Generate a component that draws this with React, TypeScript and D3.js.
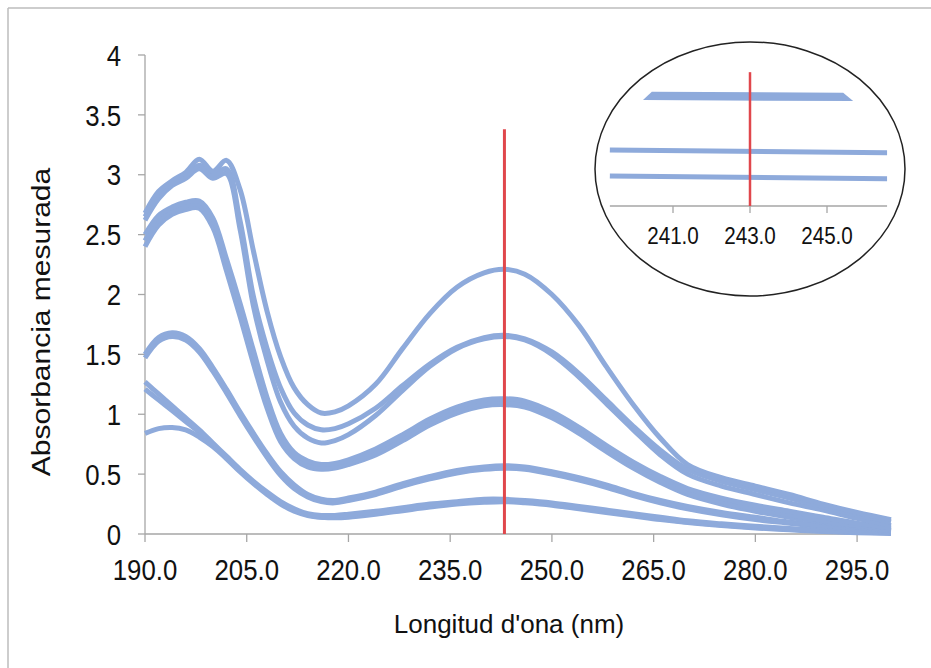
import * as d3 from 'd3';
import React from 'react';

// wavelengths (nm) shared by every spectrum
const wavelengths = [190, 192, 194, 196, 198, 200, 202, 204, 206, 208, 210, 212, 214, 216, 218, 220, 224, 228, 232, 236, 240, 243, 246, 250, 254, 258, 262, 266, 270, 275, 280, 285, 290, 295, 300];

const specA = [2.68, 2.86, 2.95, 3.02, 3.13, 3.03, 3.12, 2.88, 2.36, 1.86, 1.48, 1.22, 1.08, 1.01, 1.02, 1.07, 1.25, 1.55, 1.84, 2.06, 2.18, 2.21, 2.17, 2.0, 1.74, 1.4, 1.08, 0.8, 0.58, 0.47, 0.4, 0.33, 0.25, 0.18, 0.12];
const specB1 = [2.65, 2.83, 2.93, 2.99, 3.08, 3.0, 3.05, 2.62, 1.98, 1.55, 1.22, 1.01, 0.91, 0.87, 0.88, 0.92, 1.05, 1.24, 1.42, 1.56, 1.64, 1.66, 1.63, 1.52, 1.34, 1.12, 0.9, 0.7, 0.54, 0.44, 0.37, 0.3, 0.23, 0.16, 0.1];
const specB2 = [2.62, 2.8, 2.91, 2.97, 3.05, 2.97, 3.01, 2.55, 1.9, 1.45, 1.1, 0.9, 0.8, 0.76, 0.78, 0.83, 0.99, 1.2, 1.4, 1.55, 1.63, 1.65, 1.62, 1.5, 1.31, 1.09, 0.87, 0.66, 0.5, 0.4, 0.33, 0.26, 0.2, 0.13, 0.07];
const specC1 = [2.5, 2.66, 2.73, 2.77, 2.78, 2.64, 2.3, 1.93, 1.53, 1.14, 0.84, 0.68, 0.61, 0.58, 0.59, 0.62, 0.71, 0.83, 0.96, 1.06, 1.12, 1.13, 1.11, 1.02, 0.89, 0.74, 0.6, 0.48, 0.38, 0.3, 0.24, 0.19, 0.14, 0.09, 0.05];
const specC2 = [2.45, 2.62, 2.7, 2.74, 2.75, 2.6, 2.25, 1.87, 1.47, 1.09, 0.8, 0.65, 0.58, 0.55, 0.56, 0.59, 0.68, 0.8, 0.93, 1.03, 1.09, 1.1, 1.08, 0.99, 0.86, 0.71, 0.57, 0.45, 0.35, 0.27, 0.21, 0.16, 0.11, 0.07, 0.04];
const specC3 = [2.4, 2.58, 2.67, 2.71, 2.72, 2.56, 2.2, 1.82, 1.42, 1.05, 0.77, 0.63, 0.56, 0.54, 0.55, 0.58, 0.66, 0.78, 0.91, 1.01, 1.07, 1.08, 1.06, 0.97, 0.84, 0.69, 0.55, 0.43, 0.33, 0.25, 0.19, 0.14, 0.1, 0.06, 0.03];
const specD1 = [1.5, 1.64, 1.68, 1.65, 1.55, 1.39, 1.21, 1.02, 0.84, 0.67, 0.52, 0.41, 0.33, 0.29, 0.28, 0.3, 0.35, 0.42, 0.48, 0.53, 0.56, 0.57, 0.56, 0.52, 0.47, 0.41, 0.34, 0.28, 0.23, 0.18, 0.14, 0.1, 0.07, 0.05, 0.03];
const specD2 = [1.47, 1.61, 1.65, 1.62, 1.52, 1.36, 1.18, 0.99, 0.81, 0.64, 0.49, 0.38, 0.31, 0.27, 0.26, 0.28, 0.33, 0.4, 0.46, 0.51, 0.54, 0.55, 0.54, 0.5, 0.45, 0.39, 0.32, 0.26, 0.21, 0.16, 0.12, 0.09, 0.06, 0.04, 0.02];
const specE1 = [1.27, 1.17, 1.07, 0.97, 0.87, 0.76, 0.65, 0.54, 0.44, 0.35, 0.27, 0.21, 0.17, 0.155, 0.155, 0.165, 0.19, 0.22, 0.25, 0.27, 0.29, 0.29, 0.28, 0.26, 0.23, 0.2, 0.17, 0.14, 0.11, 0.085, 0.065, 0.045, 0.03, 0.02, 0.01];
const specE2 = [1.21, 1.12, 1.03, 0.94, 0.85, 0.75, 0.64, 0.53, 0.43, 0.34, 0.26, 0.2, 0.16, 0.14, 0.14, 0.15, 0.175, 0.205, 0.235, 0.26, 0.275, 0.28, 0.27, 0.25, 0.22, 0.19, 0.16, 0.13, 0.1, 0.075, 0.055, 0.04, 0.025, 0.015, 0.01];
const specE3 = [0.84, 0.88, 0.89, 0.87, 0.81, 0.73, 0.63, 0.52, 0.42, 0.33, 0.25, 0.19, 0.155, 0.14, 0.135, 0.14, 0.165, 0.195, 0.225, 0.25, 0.265, 0.27, 0.26, 0.24, 0.21, 0.18, 0.15, 0.12, 0.095, 0.07, 0.05, 0.035, 0.02, 0.01, 0.005];

const spectra = [specE3, specE2, specE1, specD2, specD1, specC3, specC2, specC1, specB2, specB1, specA];

const xTicks = [190, 205, 220, 235, 250, 265, 280, 295];
const yTicks = [0, 0.5, 1, 1.5, 2, 2.5, 3, 3.5, 4];

const markerWl = 243;
const markerTop = 3.38;

// zoomed inset around the marker
const insetTicks = [241, 243, 245];
const insetBandTop = [[240.45, 2.2347], [245.42, 2.2327]];
const insetBandBottom = [[245.68, 2.2156], [240.22, 2.2177]];
const insetLine1 = [[239.36, 2.115], [246.56, 2.1094]];
const insetLine2 = [[239.36, 2.0616], [246.56, 2.056]];
const insetAxisSpan = [239.36, 246.56];
const insetMarkerTop = 2.275;

const BLUE = '#8eaadb';
const RED = '#e0474c';
const AXIS = '#a6a6a6';
const FONT = '"Liberation Sans", Arial, sans-serif';

export default function App() {
  const width = 931;
  const height = 668;

  const x = d3.scaleLinear().domain([190, 300]).range([145, 891]);
  const y = d3.scaleLinear().domain([0, 4]).range([534, 55]);

  const line = d3.line<number>()
    .x((d, i) => x(wavelengths[i]))
    .y(d => y(d))
    .curve(d3.curveCatmullRom.alpha(0.5));

  const ix = d3.scaleLinear().domain([239, 247]).range([596, 904]);
  const iy = d3.scaleLinear().domain([2.0, 2.3]).range([206, 60]);
  const iline = d3.line<number[]>().x(d => ix(d[0])).y(d => iy(d[1]));

  return (
    <svg width={width} height={height} style={{ position: 'absolute', left: 0, top: 0, background: '#fff' }}
      fontFamily={FONT}>
      <rect x={0} y={0} width={width} height={height} fill="#fff" />
      {/* frame */}
      <line x1={8} x2={width} y1={8} y2={8} stroke="#bdbdbd" strokeWidth={1.5} />
      <line x1={8} x2={8} y1={8} y2={height} stroke="#bdbdbd" strokeWidth={1.5} />

      {/* axes */}
      <line x1={x(190)} x2={x(190)} y1={y(0)} y2={y(4)} stroke={AXIS} strokeWidth={1.3} />
      <line x1={x(190)} x2={x(300)} y1={y(0)} y2={y(0)} stroke={AXIS} strokeWidth={1.3} />
      {yTicks.map(t => (
        <g key={'y' + t}>
          <line x1={x(190) - 7} x2={x(190)} y1={y(t)} y2={y(t)} stroke={AXIS} strokeWidth={1.3} />
          <text transform={`translate(121,${y(t) + 10.7}) scale(0.86,1)`} textAnchor="end" fontSize={30} fill="#111">
            {String(t)}
          </text>
        </g>
      ))}
      {xTicks.map(t => (
        <g key={'x' + t}>
          <line x1={x(t)} x2={x(t)} y1={y(0)} y2={y(0) + 8} stroke={AXIS} strokeWidth={1.3} />
          <text transform={`translate(${x(t)},580) scale(0.86,1)`} textAnchor="middle" fontSize={30} fill="#111">
            {t.toFixed(1)}
          </text>
        </g>
      ))}

      {/* spectra */}
      {spectra.map((s, i) => (
        <path key={i} d={line(s) || ''} fill="none" stroke={BLUE} strokeWidth={5} />
      ))}

      {/* marker */}
      <line x1={x(markerWl)} x2={x(markerWl)} y1={y(0)} y2={y(markerTop)} stroke={RED} strokeWidth={3} />

      {/* axis titles */}
      <text transform="translate(509,633)" textAnchor="middle" fontSize={26} fill="#111">Longitud d'ona (nm)</text>
      <text transform="translate(50,322) scale(0.86,1) rotate(-90)" textAnchor="middle" fontSize={30} fill="#111">
        Absorbancia mesurada
      </text>

      {/* inset */}
      <ellipse cx={750} cy={169} rx={155} ry={127} fill="#fff" stroke="#222" strokeWidth={1.5} />
      <path d={(iline([...insetBandTop, ...insetBandBottom]) || '') + 'Z'} fill={BLUE} />
      <path d={iline(insetLine1) || ''} fill="none" stroke={BLUE} strokeWidth={5} />
      <path d={iline(insetLine2) || ''} fill="none" stroke={BLUE} strokeWidth={5} />
      <line x1={ix(insetAxisSpan[0])} x2={ix(insetAxisSpan[1])} y1={iy(2.0)} y2={iy(2.0)} stroke={AXIS} strokeWidth={1.3} />
      {insetTicks.map(t => (
        <g key={'i' + t}>
          <line x1={ix(t)} x2={ix(t)} y1={iy(2.0)} y2={iy(2.0) + 7} stroke={AXIS} strokeWidth={1.3} />
          <text transform={`translate(${ix(t)},244) scale(0.86,1)`} textAnchor="middle" fontSize={24} fill="#111">
            {t.toFixed(1)}
          </text>
        </g>
      ))}
      <line x1={ix(markerWl)} x2={ix(markerWl)} y1={iy(2.0)} y2={iy(insetMarkerTop)} stroke={RED} strokeWidth={2.5} />
    </svg>
  );
}
